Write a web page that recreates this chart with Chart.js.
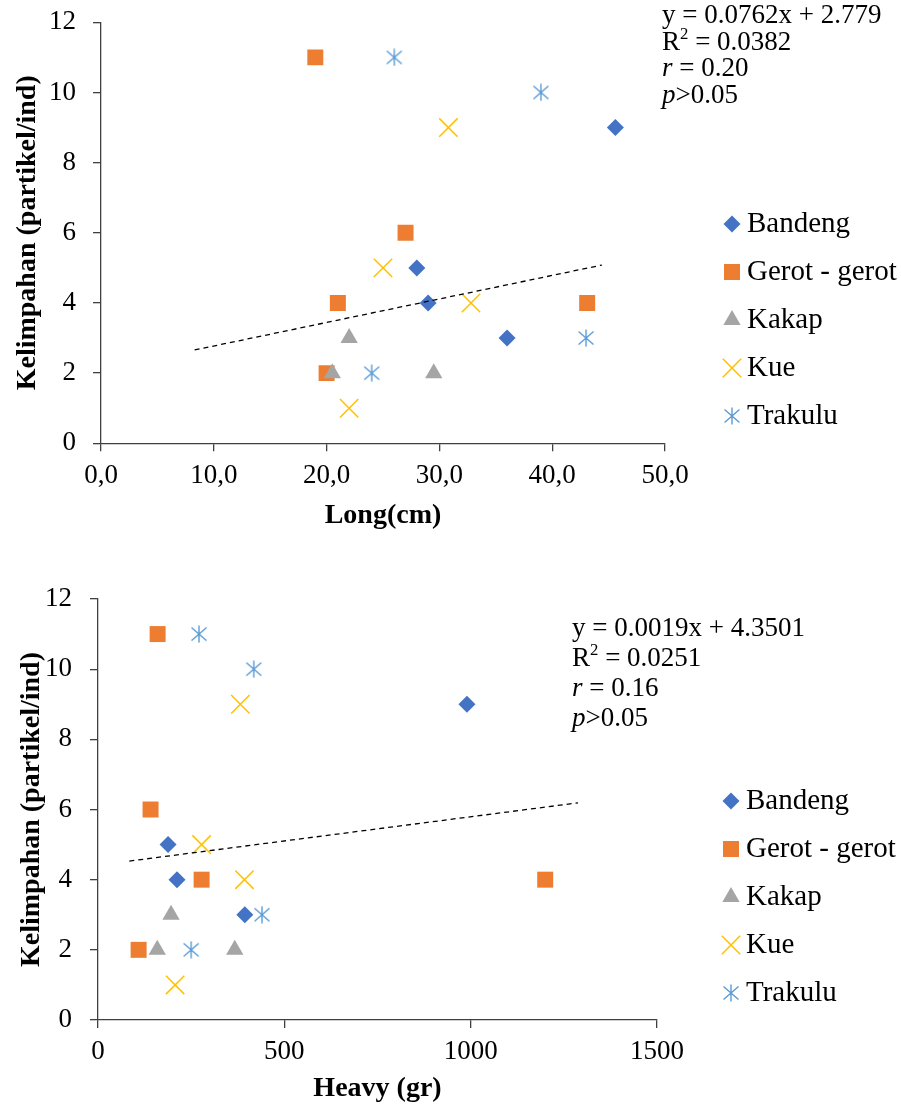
<!DOCTYPE html>
<html>
<head>
<meta charset="utf-8">
<script src="https://cdn.jsdelivr.net/npm/chart.js@4.4.1/dist/chart.umd.min.js"></script>
<style>
  body { margin: 0; background: #fff; }
  #wrap { position: relative; width: 901px; height: 1113px; }
  canvas { position: absolute; left: 0; }
  #longChart { top: 0; }
  #heavyChart { top: 560px; }
</style>
</head>
<body>
<div id="wrap">
  <canvas id="longChart" width="901" height="560"></canvas>
  <canvas id="heavyChart" width="901" height="553"></canvas>
</div>
<script>
// categories
const species = ['Bandeng', 'Gerot - gerot', 'Kakap', 'Kue', 'Trakulu'];

// kelimpahan (partikel/ind), same fish in both charts
const yBandeng = [9, 5, 4, 3];
const yGerot = [11, 6, 4, 4, 2];
const yKakap = [3, 2, 2];
const yKue = [9, 5, 4, 1];
const yTrakulu = [11, 10, 3, 2];

// long (cm)
const longBandeng = [45.6, 28, 29, 36];
const longGerot = [19, 27, 21, 43.1, 20];
const longKakap = [22, 20.5, 29.5];
const longKue = [30.8, 25, 32.8, 22];
const longTrakulu = [26, 39, 43, 24];

// heavy (gr)
const heavyBandeng = [990, 188, 212, 394];
const heavyGerot = [160, 141, 278, 1200, 109];
const heavyKakap = [196, 159, 367];
const heavyKue = [382, 278, 393, 207];
const heavyTrakulu = [271, 418, 440, 250];

// dashed trendlines as drawn in the picture
const longTrendX = [8.3, 44.4];
const longTrendY = [2.66, 5.08];
const heavyTrendX = [84, 1288];
const heavyTrendY = [4.53, 6.19];

// tick labels
const yTicks = [0, 2, 4, 6, 8, 10, 12];
const longTicks = [0, 10, 20, 30, 40, 50];
const heavyTicks = [0, 500, 1000, 1500];

const longStats = ['0.0762x + 2.779', '0.0382', '0.20', '0.05'];
const heavyStats = ['0.0019x + 4.3501', '0.0251', '0.16', '0.05'];

const serif = '"Liberation Serif", "Times New Roman", serif';
Chart.defaults.font.family = serif;
Chart.defaults.color = '#000';
const axisColor = '#404040';

// excel style asterisk marker
const starMarker = (() => {
  const c = document.createElement('canvas');
  c.width = 18; c.height = 18;
  const g = c.getContext('2d');
  g.strokeStyle = '#5B9BD5';
  g.lineWidth = 1.4;
  g.beginPath();
  g.moveTo(9, 0.5); g.lineTo(9, 17.5);
  g.moveTo(1.5, 2.5); g.lineTo(16.5, 15.5);
  g.moveTo(16.5, 2.5); g.lineTo(1.5, 15.5);
  g.stroke();
  return c;
})();

const seriesStyle = [
  { pointStyle: 'rectRot', radius: 8.5, color: '#4472C4', border: 0 },
  { pointStyle: 'rect', radius: 11.3, color: '#ED7D31', border: 0 },
  { pointStyle: 'triangle', radius: 10, color: '#A5A5A5', border: 0 },
  { pointStyle: 'crossRot', radius: 13, color: '#FFC000', border: 1.5 },
  { pointStyle: starMarker, radius: 9, color: '#5B9BD5', border: 0 }
];

function buildDatasets(xs, ys, trendX, trendY) {
  const sets = species.map((name, i) => {
    const s = seriesStyle[i];
    return {
      label: name,
      data: xs[i].map((x, j) => ({ x: x, y: ys[i][j] })),
      pointStyle: s.pointStyle,
      pointRadius: s.radius,
      pointHoverRadius: s.radius,
      backgroundColor: s.color,
      borderColor: s.color,
      borderWidth: s.border,
      order: species.length - i
    };
  });
  sets.push({
    label: 'trend',
    data: trendX.map((x, j) => ({ x: x, y: trendY[j] })),
    showLine: true,
    pointRadius: 0,
    pointHoverRadius: 0,
    borderColor: '#000',
    borderWidth: 1.3,
    borderDash: [5, 4],
    fill: false,
    order: 0
  });
  return sets;
}

function drawRuns(ctx, runs, x, y, size) {
  runs.forEach(r => {
    const fs = r.sup ? size * 0.62 : size;
    ctx.font = (r.italic ? 'italic ' : '') + fs + 'px ' + serif;
    ctx.fillText(r.t, x, r.sup ? y - size * 0.3 : y);
    x += ctx.measureText(r.t).width;
  });
}

// legend and regression text on the right
function overlay(g) {
  return {
    id: 'overlay',
    afterDraw(chart) {
      const ctx = chart.ctx;
      ctx.save();
      ctx.textBaseline = 'middle';
      ctx.textAlign = 'left';
      species.forEach((name, i) => {
        const ds = chart.data.datasets[i];
        const y = g.legendTop + i * g.legendStep;
        ctx.fillStyle = ds.backgroundColor;
        ctx.strokeStyle = ds.borderColor;
        ctx.lineWidth = ds.borderWidth || 1;
        Chart.helpers.drawPoint(ctx, {
          pointStyle: ds.pointStyle, radius: ds.pointRadius, rotation: 0, borderWidth: ds.borderWidth
        }, g.legendX, y);
        ctx.fillStyle = '#000';
        ctx.font = '29px ' + serif;
        ctx.fillText(name, g.legendX + 15, y);
      });
      const st = g.stats;
      const lines = [
        [{ t: 'y = ' + st[0] }],
        [{ t: 'R' }, { t: '2', sup: true }, { t: ' = ' + st[1] }],
        [{ t: 'r', italic: true }, { t: ' = ' + st[2] }],
        [{ t: 'p', italic: true }, { t: '>' + st[3] }]
      ];
      ctx.fillStyle = '#000';
      lines.forEach((runs, i) => drawRuns(ctx, runs, g.statsX, g.statsTop + i * g.statsStep, 27));
      ctx.restore();
    }
  };
}

function makeChart(id, datasets, xTicks, xFmt, xTitle, g) {
  return new Chart(document.getElementById(id), {
    type: 'scatter',
    data: { datasets: datasets },
    options: {
      responsive: false,
      animation: false,
      layout: { padding: { top: g.top, right: g.right, left: 0, bottom: 0 } },
      plugins: { legend: { display: false }, tooltip: { enabled: false } },
      scales: {
        x: {
          type: 'linear',
          min: xTicks[0],
          max: xTicks[xTicks.length - 1],
          ticks: {
            stepSize: xTicks[1] - xTicks[0],
            callback: xFmt,
            color: '#000',
            font: { size: 27 },
            padding: g.xTickPad,
            maxRotation: 0,
            autoSkip: false
          },
          grid: { drawOnChartArea: false, drawTicks: true, tickLength: 8, color: axisColor, lineWidth: 1.3 },
          border: { display: true, color: axisColor, width: 1.3 },
          title: { display: true, text: xTitle, color: '#000', font: { size: 28, weight: 'bold' }, padding: { top: 0, bottom: g.xTitlePad } },
          afterFit(scale) { scale.height = g.xHeight; }
        },
        y: {
          type: 'linear',
          min: yTicks[0],
          max: yTicks[yTicks.length - 1],
          ticks: {
            stepSize: yTicks[1] - yTicks[0],
            color: '#000',
            font: { size: 27 },
            padding: g.yTickPad
          },
          grid: { drawOnChartArea: false, drawTicks: true, tickLength: 8, color: axisColor, lineWidth: 1.3 },
          border: { display: true, color: axisColor, width: 1.3 },
          title: { display: true, text: 'Kelimpahan (partikel/ind)', color: '#000', font: { size: 28, weight: 'bold' }, padding: { top: g.yTitlePad, bottom: 0 } },
          afterFit(scale) {
            scale.width = g.yWidth;
            // keep the plot top where layout.padding puts it
            scale.paddingTop = 0;
            scale.paddingBottom = 0;
          }
        }
      }
    },
    plugins: [overlay(g)]
  });
}

const ys = [yBandeng, yGerot, yKakap, yKue, yTrakulu];

makeChart('longChart',
  buildDatasets([longBandeng, longGerot, longKakap, longKue, longTrakulu], ys, longTrendX, longTrendY),
  longTicks,
  v => v.toFixed(1).replace('.', ','),
  'Long(cm)',
  { top: 22.3, right: 236, xHeight: 116.7, yWidth: 101, xTickPad: 8, xTitlePad: 27, yTickPad: 17, yTitlePad: 11,
    legendX: 732, legendTop: 224, legendStep: 48, statsX: 662, statsTop: 16, statsStep: 26.7, stats: longStats });

makeChart('heavyChart',
  buildDatasets([heavyBandeng, heavyGerot, heavyKakap, heavyKue, heavyTrakulu], ys, heavyTrendX, heavyTrendY),
  heavyTicks,
  v => String(v),
  'Heavy (gr)',
  { top: 39, right: 244, xHeight: 93, yWidth: 98, xTickPad: 8, xTitlePad: 7, yTickPad: 18, yTitlePad: 15,
    legendX: 731, legendTop: 241, legendStep: 48, statsX: 572, statsTop: 68.5, statsStep: 30, stats: heavyStats });
</script>
</body>
</html>
